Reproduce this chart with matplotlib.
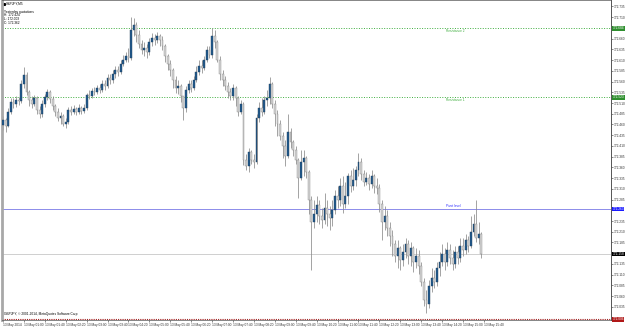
import numpy as np
import matplotlib
matplotlib.use('Agg')
import matplotlib.pyplot as plt

# GBPJPY M5, 13 May 2014 (prices)
first_open = 172.459
closes = [
    172.470, 172.456, 172.489, 172.512, 172.508, 172.517, 172.515, 172.554, 172.575, 172.536,
    172.517, 172.508, 172.521, 172.494, 172.485, 172.508, 172.524, 172.536, 172.519, 172.503,
    172.489, 172.475, 172.480, 172.461, 172.466, 172.494, 172.489, 172.496, 172.489, 172.498,
    172.491, 172.498, 172.529, 172.526, 172.538, 172.536, 172.545, 172.540, 172.554, 172.550,
    172.568, 172.564, 172.578, 172.587, 172.582, 172.601, 172.610, 172.620, 172.615, 172.680,
    172.692, 172.668, 172.647, 172.634, 172.638, 172.629, 172.652, 172.661, 172.657, 172.666,
    172.657, 172.643, 172.620, 172.601, 172.587, 172.564, 172.545, 172.550, 172.526, 172.498,
    172.540, 172.554, 172.545, 172.564, 172.582, 172.596, 172.592, 172.610, 172.634, 172.622,
    172.666, 172.652, 172.610, 172.578, 172.564, 172.550, 172.536, 172.526, 172.545, 172.521,
    172.489, 172.508, 172.377, 172.363, 172.396, 172.377, 172.373, 172.475, 172.498, 172.489,
    172.517, 172.521, 172.554, 172.508, 172.485, 172.461, 172.433, 172.410, 172.387, 172.442,
    172.419, 172.401, 172.377, 172.335, 172.373, 172.382, 172.349, 172.284, 172.233, 172.251,
    172.272, 172.247, 172.237, 172.265, 172.251, 172.242, 172.261, 172.293, 172.284, 172.317,
    172.275, 172.293, 172.340, 172.317, 172.331, 172.354, 172.373, 172.345, 172.326, 172.335,
    172.321, 172.340, 172.317, 172.312, 172.275, 172.233, 172.247, 172.219, 172.200, 172.181,
    172.154, 172.172, 172.144, 172.163, 172.181, 172.154, 172.172, 172.140, 172.154, 172.130,
    172.093, 172.051, 172.042, 172.084, 172.102, 172.093, 172.126, 172.140, 172.158, 172.140,
    172.168, 172.149, 172.135, 172.163, 172.149, 172.177, 172.168, 172.191, 172.177, 172.209,
    172.228, 172.195, 172.205, 172.158,
]
highs = [
    172.480, 172.475, 172.498, 172.522, 172.521, 172.526, 172.524, 172.564, 172.594, 172.582,
    172.540, 172.526, 172.529, 172.526, 172.503, 172.517, 172.531, 172.543, 172.540, 172.526,
    172.508, 172.498, 172.489, 172.485, 172.475, 172.501, 172.503, 172.505, 172.501, 172.508,
    172.503, 172.508, 172.533, 172.540, 172.545, 172.547, 172.552, 172.554, 172.564, 172.564,
    172.578, 172.578, 172.587, 172.596, 172.596, 172.610, 172.622, 172.629, 172.638, 172.710,
    172.708, 172.699, 172.680, 172.657, 172.652, 172.647, 172.661, 172.673, 172.671, 172.675,
    172.671, 172.666, 172.647, 172.624, 172.610, 172.592, 172.573, 172.564, 172.554, 172.526,
    172.550, 172.564, 172.564, 172.573, 172.596, 172.610, 172.610, 172.620, 172.643, 172.643,
    172.685, 172.680, 172.657, 172.620, 172.587, 172.573, 172.559, 172.545, 172.554, 172.550,
    172.526, 172.517, 172.512, 172.391, 172.405, 172.401, 172.391, 172.485, 172.512, 172.521,
    172.526, 172.540, 172.571, 172.559, 172.517, 172.494, 172.470, 172.442, 172.424, 172.485,
    172.452, 172.424, 172.410, 172.382, 172.401, 172.401, 172.387, 172.354, 172.293, 172.284,
    172.293, 172.284, 172.265, 172.300, 172.284, 172.270, 172.284, 172.307, 172.317, 172.335,
    172.340, 172.326, 172.347, 172.354, 172.359, 172.363, 172.394, 172.382, 172.354, 172.349,
    172.345, 172.354, 172.345, 172.335, 172.321, 172.284, 172.270, 172.261, 172.233, 172.214,
    172.191, 172.191, 172.177, 172.181, 172.195, 172.191, 172.186, 172.177, 172.172, 172.168,
    172.140, 172.102, 172.074, 172.098, 172.126, 172.121, 172.140, 172.163, 172.181, 172.172,
    172.186, 172.181, 172.168, 172.177, 172.177, 172.195, 172.195, 172.205, 172.200, 172.247,
    172.251, 172.284, 172.233, 172.209,
]
lows = [
    172.447, 172.442, 172.454, 172.485, 172.498, 172.501, 172.505, 172.510, 172.545, 172.529,
    172.503, 172.498, 172.503, 172.485, 172.475, 172.478, 172.501, 172.517, 172.510, 172.494,
    172.480, 172.468, 172.461, 172.456, 172.452, 172.461, 172.482, 172.485, 172.482, 172.485,
    172.485, 172.487, 172.494, 172.519, 172.521, 172.529, 172.531, 172.533, 172.536, 172.540,
    172.545, 172.554, 172.557, 172.568, 172.573, 172.578, 172.596, 172.606, 172.606, 172.610,
    172.666, 172.652, 172.638, 172.624, 172.620, 172.615, 172.622, 172.643, 172.645, 172.650,
    172.643, 172.634, 172.606, 172.587, 172.573, 172.545, 172.533, 172.531, 172.512, 172.470,
    172.489, 172.533, 172.536, 172.540, 172.559, 172.575, 172.580, 172.587, 172.606, 172.615,
    172.615, 172.638, 172.606, 172.564, 172.550, 172.540, 172.521, 172.517, 172.517, 172.503,
    172.480, 172.485, 172.366, 172.354, 172.349, 172.368, 172.359, 172.368, 172.466, 172.480,
    172.485, 172.503, 172.508, 172.498, 172.456, 172.433, 172.424, 172.382, 172.363, 172.382,
    172.405, 172.387, 172.368, 172.289, 172.331, 172.340, 172.335, 172.251, 172.121, 172.219,
    172.233, 172.228, 172.219, 172.228, 172.223, 172.214, 172.223, 172.251, 172.265, 172.270,
    172.254, 172.265, 172.275, 172.303, 172.307, 172.317, 172.340, 172.331, 172.317, 172.319,
    172.307, 172.312, 172.300, 172.298, 172.256, 172.191, 172.214, 172.200, 172.177, 172.154,
    172.140, 172.126, 172.121, 172.130, 172.149, 172.135, 172.130, 172.116, 172.126, 172.112,
    172.084, 172.037, 172.021, 172.032, 172.070, 172.079, 172.084, 172.107, 172.130, 172.121,
    172.130, 172.135, 172.121, 172.126, 172.135, 172.140, 172.154, 172.158, 172.163, 172.172,
    172.200, 172.186, 172.181, 172.149,
]

time_labels = ['13 May 2014', '13 May 01:00', '13 May 01:40', '13 May 02:20', '13 May 03:00',
               '13 May 03:40', '13 May 04:20', '13 May 05:00', '13 May 05:40', '13 May 06:20',
               '13 May 07:00', '13 May 07:40', '13 May 08:20', '13 May 09:00', '13 May 09:40',
               '13 May 10:20', '13 May 11:00', '13 May 11:40', '13 May 12:20', '13 May 13:00',
               '13 May 13:40', '13 May 14:20', '13 May 15:00', '13 May 15:40']
bars_per_label = 8

price_ticks = np.round(np.arange(172.010, 172.7351, 0.025), 3)

pivot = 172.263
res1 = 172.523
res2 = 172.684
last_price = closes[-1]
bottom_line = 172.006

yest_high, yest_low, yest_close = 172.424, 172.003, 172.362

# ------------------------------------------------------------------
plt.rcParams['font.family'] = ['Liberation Sans', 'DejaVu Sans']
fs = 2.3

fig = plt.figure(figsize=(6.25, 3.27), dpi=100)
ax = fig.add_axes([2 / 625, 7 / 327, 609 / 625, 320 / 327])

opens = np.r_[first_open, closes[:-1]]
closes = np.array(closes)
highs = np.array(highs)
lows = np.array(lows)
x = np.arange(len(closes))
up = closes >= opens

ax.vlines(x, lows, highs, color='#8a8a8a', lw=0.55, zorder=2)
body_lo = np.minimum(opens, closes)
body_h = np.maximum(np.abs(closes - opens), 0.0015)
ax.bar(x[up], body_h[up], bottom=body_lo[up], width=0.72,
       color='#1f5a8e', edgecolor='#243f5a', linewidth=0.3, zorder=3)
ax.bar(x[~up], body_h[~up], bottom=body_lo[~up], width=0.72,
       color='#d4d4d4', edgecolor='#8c8c8c', linewidth=0.3, zorder=3)

# pivot levels
green = '#3fae3f'
ax.axhline(res2, color=green, lw=0.7, ls=(0, (1, 1.6)), zorder=1)
ax.axhline(res1, color=green, lw=0.7, ls=(0, (1, 1.6)), zorder=1)
ax.axhline(pivot, color='#7a7ae6', lw=0.6, zorder=1)
ax.axhline(last_price, color='#c8c8c8', lw=0.6, zorder=1)
ax.axhline(bottom_line, color='#a02020', lw=0.8, ls=(0, (1, 1)), zorder=1)

lx = 169.6
ax.text(lx, res2 - 0.002, 'Resistance 2', color=green, fontsize=fs, va='top', ha='left')
ax.text(lx, res1 - 0.002, 'Resistance 1', color=green, fontsize=fs, va='top', ha='left')
ax.text(lx, pivot + 0.002, 'Pivot level', color='#3030ff', fontsize=fs, va='bottom', ha='left')

ax.set_xlim(-0.38, 232.6)
ax.set_ylim(172.0044, 172.750)

# price tags on the scale (tick labels under a tag are left out)
tags = [(res2, '#2f8f2f'), (res1, '#2f8f2f'), (pivot, '#1a1aff'),
        (last_price, '#000000'), (bottom_line, '#b01818')]
tag_vals = np.array([t[0] for t in tags])
free = np.array([np.min(np.abs(tag_vals - p)) > 0.009 for p in price_ticks])

ax.yaxis.tick_right()
ax.set_yticks(price_ticks)
ax.set_yticklabels([f'{p:.3f}' if ok else '' for p, ok in zip(price_ticks, free)])
ax.tick_params(axis='y', labelsize=fs, length=1.5, width=0.4, pad=0.5, colors='#333333')

# time scale
ax.set_xticks(np.arange(len(time_labels)) * bars_per_label)
ax.set_xticklabels(time_labels, ha='left')
ax.tick_params(axis='x', labelsize=fs, length=1.5, width=0.4, pad=0.6, colors='#333333')

for side in ['top', 'bottom']:
    ax.spines[side].set_color('#555555')
    ax.spines[side].set_linewidth(0.5)
ax.spines['right'].set_color('#555555')
ax.spines['right'].set_linewidth(0.7)
ax.spines['left'].set_color('#a8a8a8')
ax.spines['left'].set_linewidth(2.0)

ytr = ax.get_yaxis_transform()
for val, bg in tags:
    ax.text(1.0025, val, f'{val:.3f}', transform=ytr, fontsize=fs, color='white',
            ha='left', va='center', clip_on=False, zorder=5,
            bbox=dict(boxstyle='square,pad=0.12', fc=bg, ec='none'))

# header info
axt = ax.transAxes
ax.plot([0.003], [0.989], marker='s', ms=1.2, color='black', transform=axt, clip_on=False)
ax.text(0.007, 0.989, 'GBPJPY,M5', transform=axt, fontsize=fs, va='center', ha='left')
ax.text(0.004, 0.963, "Yesterday quotations", transform=axt, fontsize=fs, va='center', ha='left')
ax.text(0.004, 0.952, f'H: {yest_high:.3f}', transform=axt, fontsize=fs, va='center', ha='left')
ax.text(0.004, 0.940, f'L: {yest_low:.3f}', transform=axt, fontsize=fs, va='center', ha='left')
ax.text(0.004, 0.928, f'C: {yest_close:.3f}', transform=axt, fontsize=fs, va='center', ha='left')
ax.text(0.004, 0.012, 'GBPJPY, \u00a9 2001-2014, MetaQuotes Software Corp.', transform=axt,
        fontsize=fs, va='bottom', ha='left')

fig.savefig('out.png', dpi=100)
